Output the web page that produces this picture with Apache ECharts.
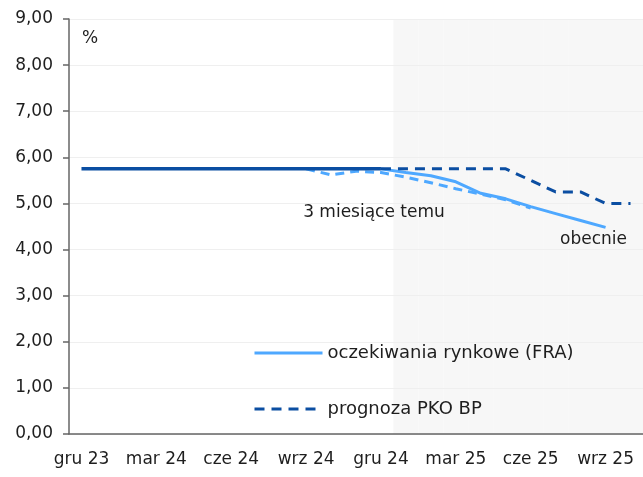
<!DOCTYPE html>
<html>
<head>
<meta charset="utf-8">
<script src="https://cdn.jsdelivr.net/npm/echarts@6/dist/echarts.min.js"></script>
<style>
  html, body { margin: 0; padding: 0; background: #fff; }
  #chart { width: 643px; height: 477px; }
</style>
</head>
<body>
<div id="chart"></div>
<script>
// months, gru 23 .. paz 25
const months = ['gru 23', 'sty 24', 'lut 24', 'mar 24', 'kwi 24', 'maj 24', 'cze 24', 'lip 24', 'sie 24',
  'wrz 24', 'paź 24', 'lis 24', 'gru 24', 'sty 25', 'lut 25', 'mar 25', 'kwi 25', 'maj 25', 'cze 25',
  'lip 25', 'sie 25', 'wrz 25', 'paź 25'];

const _ = null;
// stopa referencyjna (history)
const rate_hist = [5.75, 5.75, 5.75, 5.75, 5.75, 5.75, 5.75, 5.75, 5.75, 5.75, 5.75, 5.75, 5.75,
  _, _, _, _, _, _, _, _, _, _];
// prognoza PKO BP
const pko_forecast = [_, _, _, _, _, _, _, _, _, _, _, _, 5.75,
  5.75, 5.75, 5.75, 5.75, 5.75, 5.50, 5.25, 5.25, 5.00, 5.00];
// FRA obecnie
const fra_now = [_, _, _, _, _, _, _, _, _, _, _, _, 5.75,
  5.67, 5.60, 5.47, 5.22, 5.10, 4.93, 4.78, 4.63, 4.48, _];
// FRA 3 miesiace temu
const fra_3m = [_, _, _, _, _, _, _, _, _, 5.75, 5.62, 5.70, 5.67,
  5.57, 5.45, 5.32, 5.20, 5.08, 4.90, _, _, _, _];
// forecast period shading
const shade = [_, _, _, _, _, _, _, _, _, _, _, _, _,
  9, 9, 9, 9, 9, 9, 9, 9, 9, 9];

const y_ticks = { min: 0, max: 9, interval: 1 };

const dark = '#0b4ea2';
const light = '#4ea8ff';
const font = 'DejaVu Sans';
const txt = '#1e1e1e';

const chart = echarts.init(document.getElementById('chart'));
chart.setOption({
  animation: false,
  grid: { left: 69, right: 0, top: 19, bottom: 43 },
  textStyle: { fontFamily: font },
  legend: {
    data: ['oczekiwania rynkowe (FRA)', 'prognoza PKO BP'],
    orient: 'vertical',
    left: 248,
    top: 339,
    itemWidth: 68,
    itemHeight: 14,
    itemGap: 38,
    selectedMode: false,
    itemStyle: { opacity: 0 },
    lineStyle: { width: 3 },
    textStyle: { fontFamily: font, fontSize: 18, color: txt }
  },
  graphic: [{
    type: 'text',
    left: 82,
    top: 30,
    style: { text: '%', fontFamily: font, fontSize: 17, fill: txt }
  }],
  xAxis: {
    type: 'category',
    data: months,
    boundaryGap: true,
    axisLine: { lineStyle: { color: '#666', width: 1.5 } },
    axisTick: { interval: 2, length: 6, lineStyle: { color: '#666', width: 1.5 } },
    axisLabel: { interval: 2, margin: 17, fontSize: 17, color: txt, fontFamily: font }
  },
  yAxis: {
    type: 'value',
    min: y_ticks.min,
    max: y_ticks.max,
    interval: y_ticks.interval,
    axisLine: { show: true, lineStyle: { color: '#666', width: 1.5 } },
    axisTick: { show: true, length: 6, lineStyle: { color: '#666', width: 1.5 } },
    axisLabel: { margin: 16, fontSize: 17, color: txt, fontFamily: font,
      formatter: v => v.toFixed(2).replace('.', ',') },
    splitLine: { lineStyle: { color: '#efefef', width: 1 } }
  },
  series: [
    {
      name: 'shade',
      type: 'bar',
      data: shade,
      barWidth: '100%',
      silent: true,
      z: -1,
      itemStyle: { color: '#f7f7f7' }
    },
    {
      name: '3 miesiące temu',
      type: 'line',
      data: fra_3m,
      symbol: 'none',
      lineStyle: { color: light, width: 3, type: [9, 6] },
      itemStyle: { color: light },
      markPoint: {
        symbol: 'circle',
        symbolSize: 1,
        itemStyle: { color: 'rgba(0,0,0,0)' },
        data: [{ coord: ['gru 24', 5.67] }],
        label: { show: true, position: 'inside', formatter: '3 miesiące temu', offset: [-7, 40],
          fontSize: 17, color: txt, fontFamily: font }
      }
    },
    {
      name: 'oczekiwania rynkowe (FRA)',
      type: 'line',
      data: fra_now,
      symbol: 'none',
      lineStyle: { color: light, width: 3 },
      itemStyle: { color: light },
      markPoint: {
        symbol: 'circle',
        symbolSize: 1,
        itemStyle: { color: 'rgba(0,0,0,0)' },
        data: [{ coord: ['wrz 25', 4.48] }],
        label: { show: true, position: 'inside', formatter: 'obecnie', offset: [-12, 12],
          fontSize: 17, color: txt, fontFamily: font }
      }
    },
    {
      name: 'prognoza PKO BP',
      type: 'line',
      data: pko_forecast,
      symbol: 'none',
      lineStyle: { color: dark, width: 3, type: [10, 7] },
      itemStyle: { color: dark }
    },
    {
      name: 'stopa referencyjna',
      type: 'line',
      data: rate_hist,
      symbol: 'none',
      lineStyle: { color: dark, width: 3.5 },
      itemStyle: { color: dark }
    }
  ]
});
</script>
</body>
</html>
